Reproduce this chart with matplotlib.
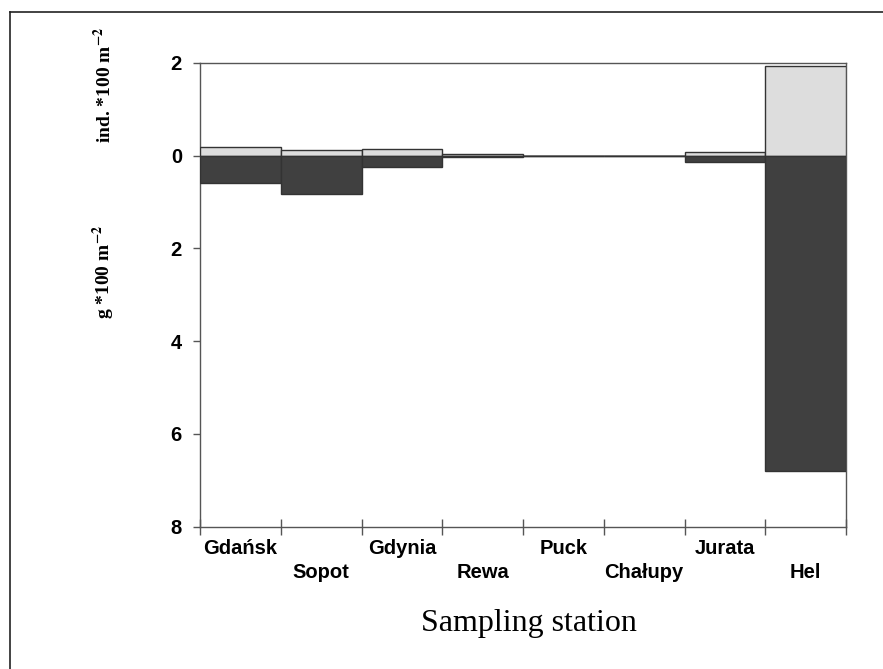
import numpy as np
import matplotlib.pyplot as plt
from matplotlib.lines import Line2D

# density (ind. *100 m-2, plotted upwards) and biomass (g *100 m-2, plotted downwards)
stations = ['Gdańsk', 'Sopot', 'Gdynia', 'Rewa', 'Puck', 'Chałupy', 'Jurata', 'Hel']
abundance = [0.18, 0.12, 0.14, 0.03, 0.0, 0.0, 0.065, 1.93]
biomass = [0.60, 0.82, 0.25, 0.04, 0.0, 0.0, 0.14, 6.80]
y_ticks = [2, 0, -2, -4, -6, -8]

plt.rcParams['mathtext.fontset'] = 'stix'

fig = plt.figure(figsize=(8.83, 6.69), dpi=100)
ax = fig.add_axes([200 / 883, 1 - 526.7 / 669, 646 / 883, 464 / 669])

x = np.arange(len(stations))
ax.bar(x, abundance, width=1, align='edge', color='#dddddd',
       edgecolor='#333333', linewidth=1.0, zorder=3)
ax.bar(x, [-b for b in biomass], width=1, align='edge', color='#404040',
       edgecolor='#333333', linewidth=1.0, zorder=3)
ax.axhline(0, color='#808080', linewidth=1.2, zorder=2)

ax.set_xlim(0, len(stations))
ax.set_ylim(-8, 2)

# category boundaries as major ticks, names as staggered minor labels
ax.set_xticks(np.arange(len(stations) + 1))
ax.set_xticklabels([])
ax.set_xticks(x + 0.5, minor=True)
ax.set_xticklabels([s if i % 2 == 0 else '\n' + s for i, s in enumerate(stations)],
                   minor=True, fontfamily='Liberation Sans', fontweight='bold',
                   fontsize=14.5, linespacing=1.3)
ax.tick_params(axis='x', which='major', direction='inout', length=11,
               width=1, color='#555555')
ax.tick_params(axis='x', which='minor', length=0, pad=9)

ax.set_yticks(y_ticks)
ax.set_yticklabels([str(abs(v)) for v in y_ticks], fontfamily='Liberation Sans',
                   fontweight='bold', fontsize=14.5)
ax.tick_params(axis='y', direction='out', length=5, width=1, color='#555555', pad=8)

for sp in ax.spines.values():
    sp.set_color('#555555')
    sp.set_linewidth(1.0)

fig.text(104 / 883, 1 - 85 / 669, r'ind. *100 m$^{\mathbf{-2}}$', rotation=90,
         ha='center', va='center', fontfamily='Liberation Serif',
         fontweight='bold', fontsize=14)
fig.text(104 / 883, 1 - 272 / 669, r'g *100 m$^{\mathbf{-2}}$', rotation=90,
         ha='center', va='center', fontfamily='Liberation Serif',
         fontweight='bold', fontsize=14)
fig.text(529 / 883, 1 - 624 / 669, 'Sampling station', ha='center', va='center',
         fontfamily='Liberation Serif', fontsize=23)

# frame lines at top and left of the picture
fig.add_artist(Line2D([9.5 / 883, 1], [1 - 12 / 669, 1 - 12 / 669],
                      transform=fig.transFigure, color='#222222', linewidth=1.2))
fig.add_artist(Line2D([9.5 / 883, 9.5 / 883], [0, 1 - 12 / 669],
                      transform=fig.transFigure, color='#222222', linewidth=1.2))

fig.savefig('out.png', dpi=100)
